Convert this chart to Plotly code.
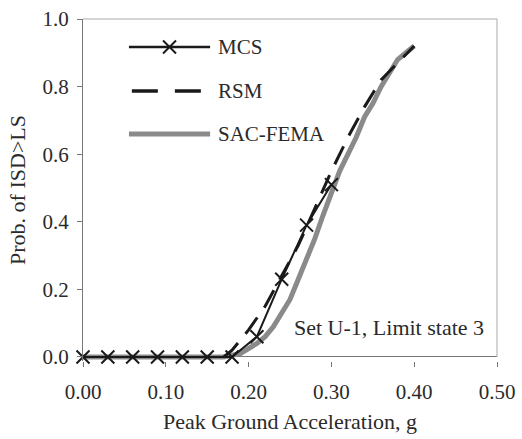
import plotly.graph_objects as go

# ---- data ----
mcs_x = [0.00, 0.03, 0.06, 0.09, 0.12, 0.15, 0.18, 0.21, 0.24, 0.27, 0.30]
mcs_y = [0.00, 0.00, 0.00, 0.00, 0.00, 0.00, 0.00, 0.06, 0.23, 0.39, 0.51]

rsm_x = [0.17, 0.18, 0.20, 0.22, 0.24, 0.26, 0.28, 0.30, 0.32, 0.34, 0.36, 0.38, 0.40]
rsm_y = [0.00, 0.02, 0.08, 0.15, 0.24, 0.33, 0.44, 0.55, 0.65, 0.74, 0.82, 0.87, 0.92]

sac_x = [0.00, 0.17, 0.19, 0.20, 0.21, 0.22, 0.23, 0.24, 0.25, 0.26, 0.27, 0.28,
         0.29, 0.30, 0.31, 0.32, 0.33, 0.34, 0.35, 0.36, 0.37, 0.38, 0.39, 0.40]
sac_y = [0.00, 0.00, 0.01, 0.025, 0.04, 0.06, 0.09, 0.13, 0.17, 0.23, 0.29, 0.35,
         0.42, 0.49, 0.55, 0.60, 0.65, 0.71, 0.75, 0.80, 0.84, 0.88, 0.90, 0.92]

x_ticks = [0.0, 0.1, 0.2, 0.3, 0.4, 0.5]
x_tick_text = ["0.00", "0.10", "0.20", "0.30", "0.40", "0.50"]
y_ticks = [0.0, 0.2, 0.4, 0.6, 0.8, 1.0]
y_tick_text = ["0.0", "0.2", "0.4", "0.6", "0.8", "1.0"]

legend_names = ["MCS", "RSM", "SAC-FEMA"]

FONT = "Liberation Serif"
GRAY = "#8a8a8a"
INK = "#1a1a1a"
TXT = "#2a2a2a"
Y_LOW = -0.012

fig = go.Figure()
fig.add_trace(go.Scatter(x=sac_x, y=sac_y, mode="lines", name="SAC-FEMA",
                         line=dict(color=GRAY, width=5), showlegend=False))
fig.add_trace(go.Scatter(x=rsm_x, y=rsm_y, mode="lines", name="RSM",
                         line=dict(color=INK, width=3, dash="20px,12px"), showlegend=False))
fig.add_trace(go.Scatter(x=mcs_x, y=mcs_y, mode="lines+markers", name="MCS",
                         line=dict(color=INK, width=2), cliponaxis=False,
                         marker=dict(symbol="x-thin", size=13,
                                     line=dict(color=INK, width=2)),
                         showlegend=False))

# custom legend drawn on an overlay axis (x: 0..1 of plot width, y: data units)
leg_y = [0.917, 0.787, 0.660]
fig.add_trace(go.Scatter(x=[0.111, 0.307], y=[leg_y[0]] * 2, mode="lines",
                         line=dict(color=INK, width=2.5),
                         xaxis="x2", yaxis="y2", showlegend=False))
fig.add_trace(go.Scatter(x=[0.209], y=[leg_y[0]], mode="markers",
                         marker=dict(symbol="x-thin", size=13,
                                     line=dict(color=INK, width=2)),
                         xaxis="x2", yaxis="y2", showlegend=False))
fig.add_trace(go.Scatter(x=[0.118, 0.287], y=[leg_y[1]] * 2, mode="lines",
                         line=dict(color=INK, width=3.5, dash="26px,17px"),
                         xaxis="x2", yaxis="y2", showlegend=False))
fig.add_trace(go.Scatter(x=[0.111, 0.307], y=[leg_y[2]] * 2, mode="lines",
                         line=dict(color=GRAY, width=5),
                         xaxis="x2", yaxis="y2", showlegend=False))

annotations = []
for name, yy in zip(legend_names, leg_y):
    annotations.append(dict(x=0.322, y=yy, xref="x2", yref="y2", text=name,
                            showarrow=False, xanchor="left", yanchor="middle",
                            font=dict(family=FONT, size=21, color=TXT)))
annotations.append(dict(x=0.252, y=0.086, xref="x", yref="y", text="Set U-1, Limit state 3",
                        showarrow=False, xanchor="left", yanchor="middle",
                        font=dict(family=FONT, size=22, color=TXT)))

fig.update_layout(
    width=522, height=439,
    margin=dict(l=83, r=25, t=19, b=78),
    paper_bgcolor="white", plot_bgcolor="white",
    font=dict(family=FONT, size=20, color=TXT),
    annotations=annotations,
    xaxis=dict(range=[0, 0.5], tickvals=x_ticks, ticktext=x_tick_text,
               showgrid=False, zeroline=False, showline=False, automargin=False,
               ticks="outside", ticklen=5, tickcolor="#777",
               ticklabelstandoff=7,
               tickfont=dict(family=FONT, size=21, color=TXT),
               title=dict(text="Peak Ground Acceleration, g", standoff=10,
                          font=dict(family=FONT, size=22, color=TXT))),
    yaxis=dict(range=[Y_LOW, 1.0], tickvals=y_ticks, ticktext=y_tick_text,
               showgrid=False, zeroline=True, zerolinecolor="#777", zerolinewidth=1,
               showline=True, linecolor="#777", automargin=False,
               linewidth=1, ticks="outside", ticklen=5, tickcolor="#777",
               ticklabelstandoff=4,
               tickfont=dict(family=FONT, size=21, color=TXT),
               title=dict(text="Prob. of ISD>LS", standoff=10,
                          font=dict(family=FONT, size=22, color=TXT))),
    xaxis2=dict(range=[0, 1], overlaying="x", visible=False, fixedrange=True),
    yaxis2=dict(range=[Y_LOW, 1], overlaying="y", visible=False, fixedrange=True),
    shapes=[
        dict(type="line", xref="paper", yref="paper", x0=0, x1=1, y0=1, y1=1,
             line=dict(color="#aaa", width=1)),
        dict(type="line", xref="paper", yref="y", x0=1, x1=1, y0=0, y1=1,
             line=dict(color="#aaa", width=1)),
    ],
)

fig.write_html("out.html")
